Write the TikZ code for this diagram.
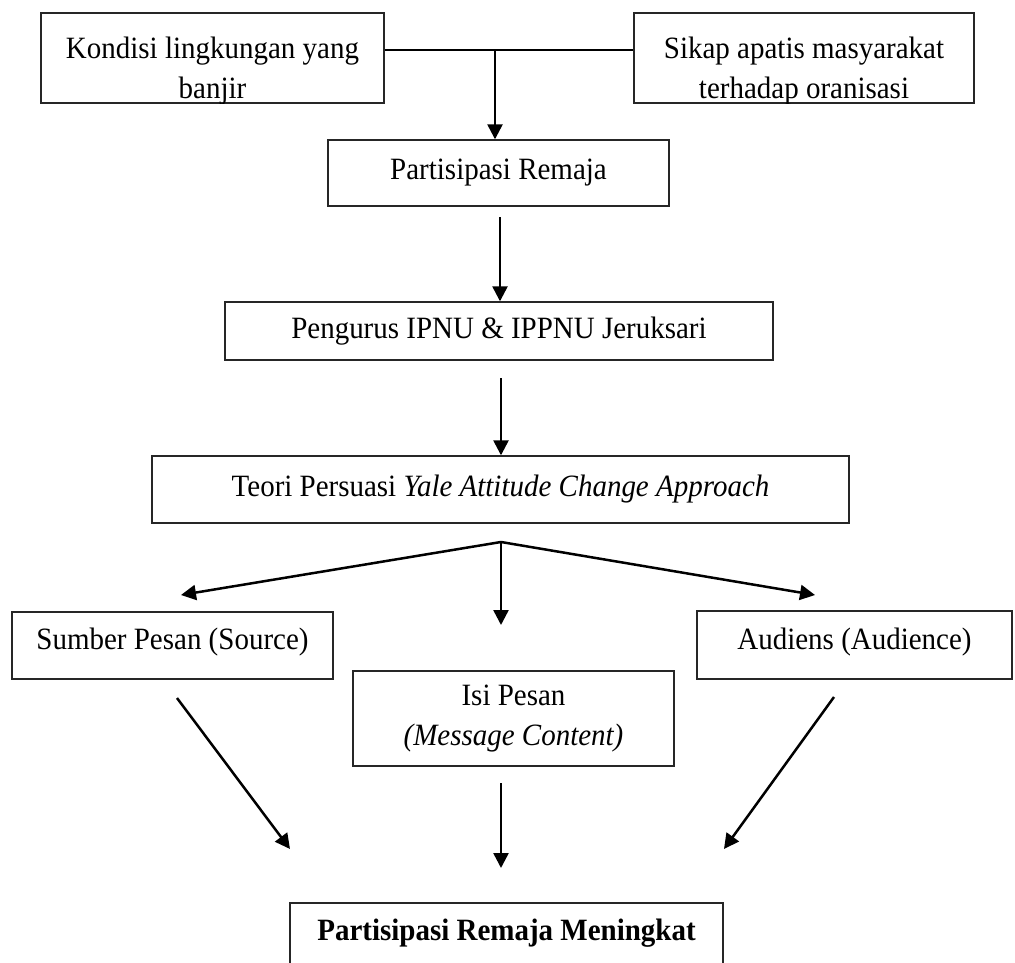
\documentclass[tikz,border=0pt]{standalone}
\usepackage{fontspec}
\setmainfont{Liberation Serif}[FakeStretch=0.935]
\usetikzlibrary{arrows.meta}
\begin{document}
\begin{tikzpicture}[x=1pt,y=-1pt,
  box/.style={draw=black!85, line width=1.4pt, rectangle, inner sep=0pt,
    font=\fontsize{31}{40}\selectfont, align=center},
  txt/.style={inner sep=0pt, font=\fontsize{31}{40}\selectfont, align=center},
  conn/.style={line width=2.5pt, draw=black},
  arr/.style={conn, -{Triangle[length=15pt,width=15pt]}}]
\useasboundingbox (0,0) rectangle (1015,963);

% boxes
\node[box, minimum width=343pt, minimum height=90pt] (A) at (212.5,58) {};
\node[box, minimum width=340pt, minimum height=90pt] (B) at (804,58) {};
\node[box, minimum width=341pt, minimum height=66pt] (C) at (498.5,173) {Partisipasi Remaja};
\node[box, minimum width=548pt, minimum height=58pt] (D) at (499,331) {Pengurus IPNU \& IPPNU Jeruksari};
\node[box, minimum width=697pt, minimum height=67pt] (E) at (500.5,489.5) {Teori Persuasi \textit{Yale Attitude Change Approach}};
\node[box, minimum width=321pt, minimum height=67pt, text depth=13pt] (F) at (172.5,645.5) {Sumber Pesan (Source)};
\node[box, minimum width=321pt, minimum height=95pt] (G) at (513.5,718.5) {Isi Pesan\\\textit{(Message Content)}};
\node[box, minimum width=315pt, minimum height=68pt, text depth=13pt] (H) at (854.5,645) {Audiens (Audience)};
\node[box, minimum width=433pt, minimum height=100pt] (I) at (506.5,953) {};

% texts of the boxes whose text is not centred
\begin{scope}
  \clip (A.north west) rectangle (A.south east);
  \node[txt] (Atext) at (212.5,71) {Kondisi lingkungan yang\\banjir};
\end{scope}
\begin{scope}
  \clip (B.north west) rectangle (B.south east);
  \node[txt] (Btext) at (804,71) {Sikap apatis masyarakat\\terhadap oranisasi};
\end{scope}
\node[txt, font=\fontsize{31}{40}\selectfont\bfseries] (Itext) at (506.5,933) {Partisipasi Remaja Meningkat};

% connectors
\coordinate (j) at (495,50);
\draw[conn] (A.east |- j) -- (B.west |- j);
\draw[arr] (j) -- (j |- C.north);

\coordinate (c1) at (500,217);
\draw[arr] (c1) -- (c1 |- D.north);

\coordinate (d1) at (501,378);
\draw[arr] (d1) -- (d1 |- E.north);

\coordinate (s) at (501,542);
\coordinate (tl) at (181,595);
\coordinate (tm) at (501,625);
\coordinate (tr) at (815,595);
\draw[arr] (s) -- (tl);
\draw[arr] (s) -- (tm);
\draw[arr] (s) -- (tr);

\coordinate (f1) at (177,698);
\coordinate (f2) at (290,849);
\coordinate (g1) at (501,783);
\coordinate (g2) at (501,868);
\coordinate (h1) at (834,697);
\coordinate (h2) at (724,849);
\draw[arr] (f1) -- (f2);
\draw[arr] (g1) -- (g2);
\draw[arr] (h1) -- (h2);
\end{tikzpicture}
\end{document}
